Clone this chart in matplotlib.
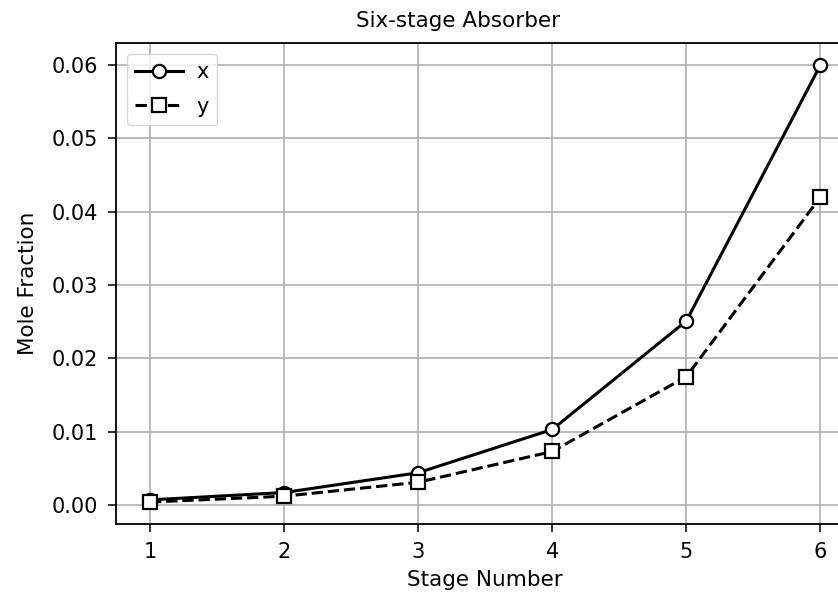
import matplotlib.pyplot as plt

plt.rcParams['font.family'] = ['DejaVu Sans']

stages = [1, 2, 3, 4, 5, 6]
x_liquid = [0.0007, 0.0017, 0.0044, 0.0103, 0.0251, 0.0600]
y_gas = [0.0004, 0.0012, 0.0031, 0.0073, 0.0175, 0.0420]

fig = plt.figure(figsize=(8.38, 5.92), dpi=100)
ax = fig.add_axes([0.139, 0.115, 0.880, 0.812])

ax.plot(stages, x_liquid, 'k-o', lw=2.2, ms=9.5, mfc='white', mew=1.6, label='x')
ax.plot(stages, y_gas, 'k--s', lw=2.2, ms=9.5, mfc='white', mew=1.6, label='y')

ax.set_xlabel('Stage Number', fontsize=15.5, labelpad=6)
ax.set_ylabel('Mole Fraction', fontsize=15.5, labelpad=10)
ax.set_title('Six-stage Absorber', fontsize=15.5, x=0.463, pad=12)
ax.tick_params(labelsize=15, length=6, width=1.1, pad=7)
ax.grid(True, color='#b0b0b0', lw=1.2)
for s in ax.spines.values():
    s.set_linewidth(1.3)

ax.legend(loc='upper left', fontsize=15, handlelength=2.3,
          handletextpad=0.65, labelspacing=0.7)

fig.savefig('out.png', dpi=100)
